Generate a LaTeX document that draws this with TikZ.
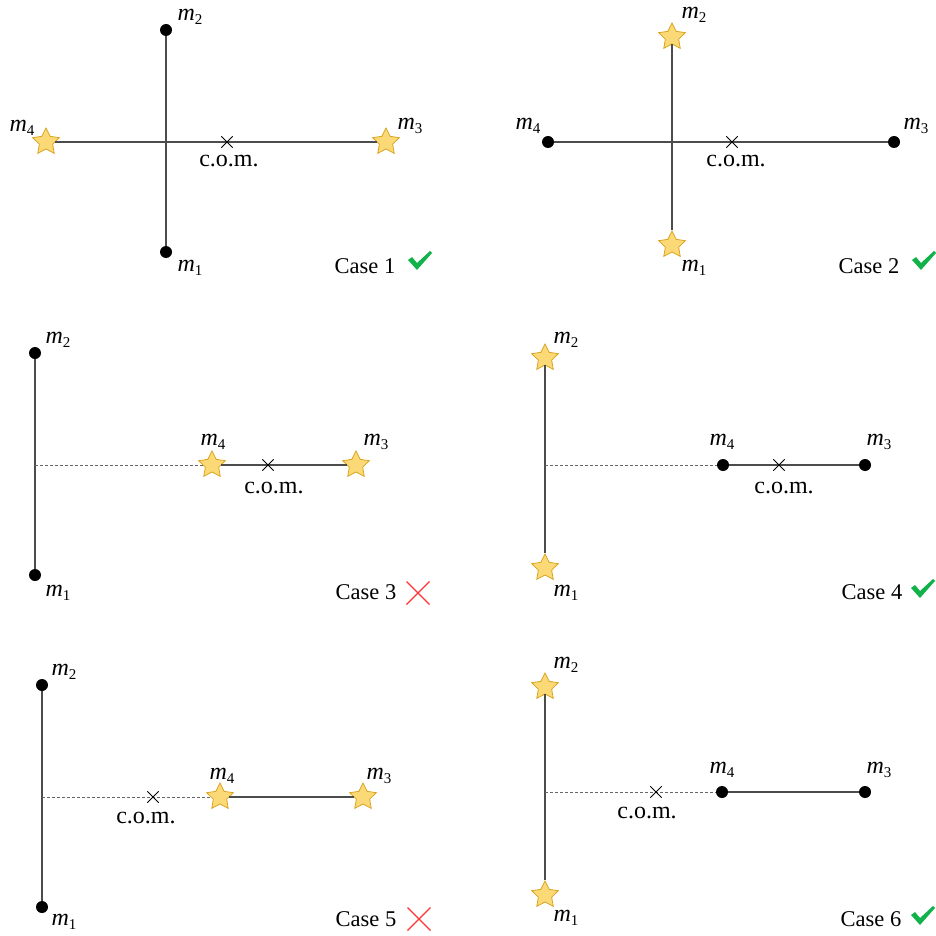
\documentclass[tikz,border=0pt]{standalone}
\usepackage{fontspec}
\setmainfont{Liberation Serif}
\usetikzlibrary{shapes.geometric,shapes.misc}
\definecolor{starfill}{HTML}{FCD977}
\definecolor{stardraw}{HTML}{D9A520}
\definecolor{okgreen}{HTML}{12B24B}
\definecolor{nored}{HTML}{FF3333}
\tikzset{
  massdot/.style={circle,fill=black,inner sep=0pt,minimum size=12pt},
  massstar/.style={star,star points=5,star point ratio=2.0,fill=starfill,draw=stardraw,line width=0.8pt,inner sep=0pt,minimum size=28pt},
  comx/.style={cross out,draw=black,line width=0.8pt,inner sep=0pt,minimum size=10.5pt},
  rod/.style={draw=black!70,line width=1.1pt},
  ghost/.style={draw=black!60,line width=1pt,dash pattern=on 3pt off 2pt},
  lbl/.style={inner sep=0pt,font=\fontsize{22.5}{24}\selectfont},
  comlbl/.style={inner sep=0pt,font=\fontsize{24}{26}\selectfont},
  mlbl/.style={inner sep=0pt,font=\fontsize{24}{26}\selectfont},
}
\newcommand\mm[1]{\textit{m}\raisebox{-0.35ex}{\fontsize{15}{16}\selectfont #1}}
\newcommand\okmark[2]{\fill[okgreen] (#1-12,#2-1) -- (#1-8,#2-4) -- (#1-3,#2+2) -- (#1+10,#2-10) -- (#1+12,#2-8) -- (#1-3,#2+9) -- cycle;}
\newcommand\nomark[2]{\draw[nored,line width=1.1pt] (#1-11.5,#2-11.5) -- (#1+11.5,#2+11.5) (#1+11.5,#2-11.5) -- (#1-11.5,#2+11.5);}
\begin{document}
\begin{tikzpicture}[x=1pt,y=-1pt]
\useasboundingbox (0,0) rectangle (936,936);
% ---------- Case 1
\node[massdot] (a1) at (166,30) {};
\node[massdot] (a2) at (166,252) {};
\node[massstar] (a4) at (46,142) {};
\node[massstar] (a3) at (386,142) {};
\draw[rod] (a1) -- (a2);
\draw[rod] (a4) -- (a3);
\node[comx] (ac) at (227,142) {};
\node[comlbl] at (229,161) {c.o.m.};
\node[mlbl] at (190,17) {\mm{2}};
\node[mlbl] at (190,268) {\mm{1}};
\node[mlbl] at (22,128) {\mm{4}};
\node[mlbl] at (410,126) {\mm{3}};
\node[lbl] at (365,266) {Case 1};
\okmark{420}{261}
% ---------- Case 2
\node[massstar] (b1) at (672,37) {};
\node[massstar] (b2) at (672,245) {};
\node[massdot] (b4) at (548,142) {};
\node[massdot] (b3) at (894,142) {};
\draw[rod] (b1) -- (b2);
\draw[rod] (b4) -- (b3);
\node[comx] (bc) at (732,142) {};
\node[comlbl] at (736,161) {c.o.m.};
\node[mlbl] at (694,15) {\mm{2}};
\node[mlbl] at (694,268) {\mm{1}};
\node[mlbl] at (528,126) {\mm{4}};
\node[mlbl] at (916,126) {\mm{3}};
\node[lbl] at (869,266) {Case 2};
\okmark{924}{261}
% ---------- Case 3
\node[massdot] (c1) at (35,353) {};
\node[massdot] (c2) at (35,575) {};
\node[massstar] (c4) at (212,465) {};
\node[massstar] (c3) at (356,465) {};
\coordinate (c0) at (35,465);
\draw[rod] (c1) -- (c2);
\draw[ghost] (c0) -- (c4);
\draw[rod] (c4) -- (c3);
\node[comx] (cc) at (268,465) {};
\node[comlbl] at (274,488) {c.o.m.};
\node[mlbl] at (58,340) {\mm{2}};
\node[mlbl] at (58,593) {\mm{1}};
\node[mlbl] at (213,442) {\mm{4}};
\node[mlbl] at (376,442) {\mm{3}};
\node[lbl] at (366,592) {Case 3};
\nomark{418}{593}
% ---------- Case 4
\node[massstar] (d1) at (545,358) {};
\node[massstar] (d2) at (545,568) {};
\node[massdot] (d4) at (723,465) {};
\node[massdot] (d3) at (865,465) {};
\coordinate (d0) at (545,465);
\draw[rod] (d1) -- (d2);
\draw[ghost] (d0) -- (d4);
\draw[rod] (d4) -- (d3);
\node[comx] (dc) at (779,465) {};
\node[comlbl] at (784,488) {c.o.m.};
\node[mlbl] at (566,340) {\mm{2}};
\node[mlbl] at (566,593) {\mm{1}};
\node[mlbl] at (722,442) {\mm{4}};
\node[mlbl] at (879,442) {\mm{3}};
\node[lbl] at (872,592) {Case 4};
\okmark{923}{589}
% ---------- Case 5
\node[massdot] (e1) at (42,685) {};
\node[massdot] (e2) at (42,907) {};
\node[massstar] (e4) at (220,797) {};
\node[massstar] (e3) at (363,797) {};
\coordinate (e0) at (42,797);
\draw[rod] (e1) -- (e2);
\draw[ghost] (e0) -- (e4);
\draw[rod] (e4) -- (e3);
\node[comx] (ec) at (153,797) {};
\node[comlbl] at (146,818) {c.o.m.};
\node[mlbl] at (64,672) {\mm{2}};
\node[mlbl] at (64,922) {\mm{1}};
\node[mlbl] at (222,776) {\mm{4}};
\node[mlbl] at (379,776) {\mm{3}};
\node[lbl] at (366,919) {Case 5};
\nomark{419}{919}
% ---------- Case 6
\node[massstar] (f1) at (545,687) {};
\node[massstar] (f2) at (545,895) {};
\node[massdot] (f4) at (722,792) {};
\node[massdot] (f3) at (865,792) {};
\coordinate (f0) at (545,792);
\draw[rod] (f1) -- (f2);
\draw[ghost] (f0) -- (f4);
\draw[rod] (f4) -- (f3);
\node[comx] (fc) at (656,792) {};
\node[comlbl] at (647,813) {c.o.m.};
\node[mlbl] at (566,665) {\mm{2}};
\node[mlbl] at (566,918) {\mm{1}};
\node[mlbl] at (722,770) {\mm{4}};
\node[mlbl] at (879,770) {\mm{3}};
\node[lbl] at (871,919) {Case 6};
\okmark{923}{916}
\end{tikzpicture}
\end{document}
